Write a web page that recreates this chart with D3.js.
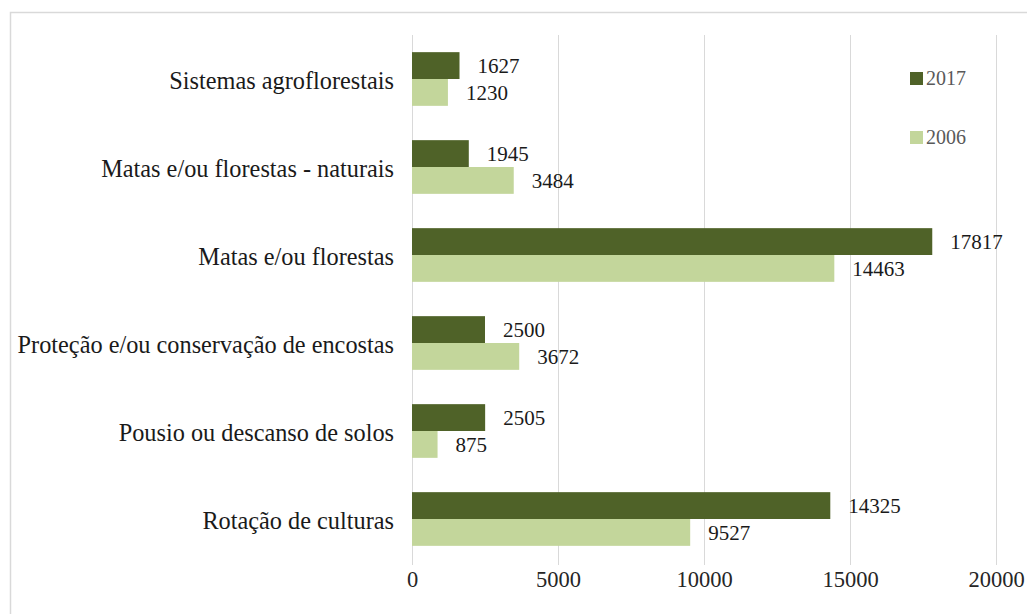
<!DOCTYPE html>
<meta charset="utf-8" />
<script src="https://d3js.org/d3.v7.min.js"></script>
<body style="margin:0;background:#fff">
<svg id="chart" width="1027" height="614" style="display:block"></svg>
<script>
/* DATA -------------------------------------------------------------------- */
const categories=[
  "Sistemas agroflorestais",
  "Matas e/ou florestas - naturais",
  "Matas e/ou florestas",
  "Proteção e/ou conservação de encostas",
  "Pousio ou descanso de solos",
  "Rotação de culturas"
];
const series=["2017","2006"];
const values2017=[1627,1945,17817,2500,2505,14325];
const values2006=[1230,3484,14463,3672,875,9527];
const tickValues=[0,5000,10000,15000,20000];

/* CONFIG ------------------------------------------------------------------ */
const colour=d3.scaleOrdinal(series,["#4f6228","#c3d69b"]);
const font="Liberation Serif";
const svg=d3.select("#chart");

const x=d3.scaleLinear().domain([0,20000]).range([412,996]);
const y0=d3.scaleBand().domain(categories).range([35,563]).paddingInner(0.39).paddingOuter(0.195);
const y1=d3.scaleBand().domain(series).range([0,y0.bandwidth()]);

/* frame */
svg.append("rect").attr("x",10.5).attr("y",12.5).attr("width",1040).attr("height",640)
   .attr("fill","none").attr("stroke","#d9d9d9").attr("stroke-width",1.5);

/* grid + x axis */
const ax=svg.append("g").attr("transform","translate(0,565)")
  .call(d3.axisBottom(x).tickValues(tickValues).tickFormat(d3.format("d"))
        .tickSizeInner(-530).tickSizeOuter(0).tickPadding(6));
ax.attr("font-family",font).attr("font-size",22.5);
ax.select(".domain").remove();
ax.selectAll("line").attr("stroke","#d9d9d9");
ax.selectAll("text").attr("fill","#262626");

/* bars */
const rows=categories.map((c,i)=>({cat:c,vals:[
  {key:"2017",v:values2017[i]},{key:"2006",v:values2006[i]}]}));

const grp=svg.selectAll("g.cat").data(rows).enter().append("g").attr("class","cat")
  .attr("transform",d=>`translate(0,${y0(d.cat)})`);

grp.selectAll("rect").data(d=>d.vals).enter().append("rect")
  .attr("x",x(0)).attr("y",d=>y1(d.key))
  .attr("width",d=>x(d.v)-x(0)).attr("height",y1.bandwidth())
  .attr("fill",d=>colour(d.key));

grp.selectAll("text.val").data(d=>d.vals).enter().append("text").attr("class","val")
  .attr("x",d=>x(d.v)+18).attr("y",d=>y1(d.key)+y1.bandwidth()/2).attr("dy","0.35em")
  .attr("font-family",font).attr("font-size",21).attr("fill","#1a1a1a").text(d=>d.v);

/* category labels */
svg.selectAll("text.cat").data(categories).enter().append("text").attr("class","cat")
  .attr("x",394).attr("y",d=>y0(d)+y0.bandwidth()/2+1).attr("dy","0.35em")
  .attr("text-anchor","end").attr("font-family",font).attr("font-size",24.3)
  .attr("fill","#1a1a1a").text(d=>d);

/* legend */
const leg=svg.selectAll("g.leg").data(series).enter().append("g").attr("class","leg")
  .attr("transform",(d,i)=>`translate(910,${78+i*59})`);
leg.append("rect").attr("x",0).attr("y",-6).attr("width",13).attr("height",13).attr("fill",d=>colour(d));
leg.append("text").attr("x",16).attr("dy","0.35em").attr("font-family",font).attr("font-size",20)
   .attr("fill","#595959").text(d=>d);
</script>
</body>
